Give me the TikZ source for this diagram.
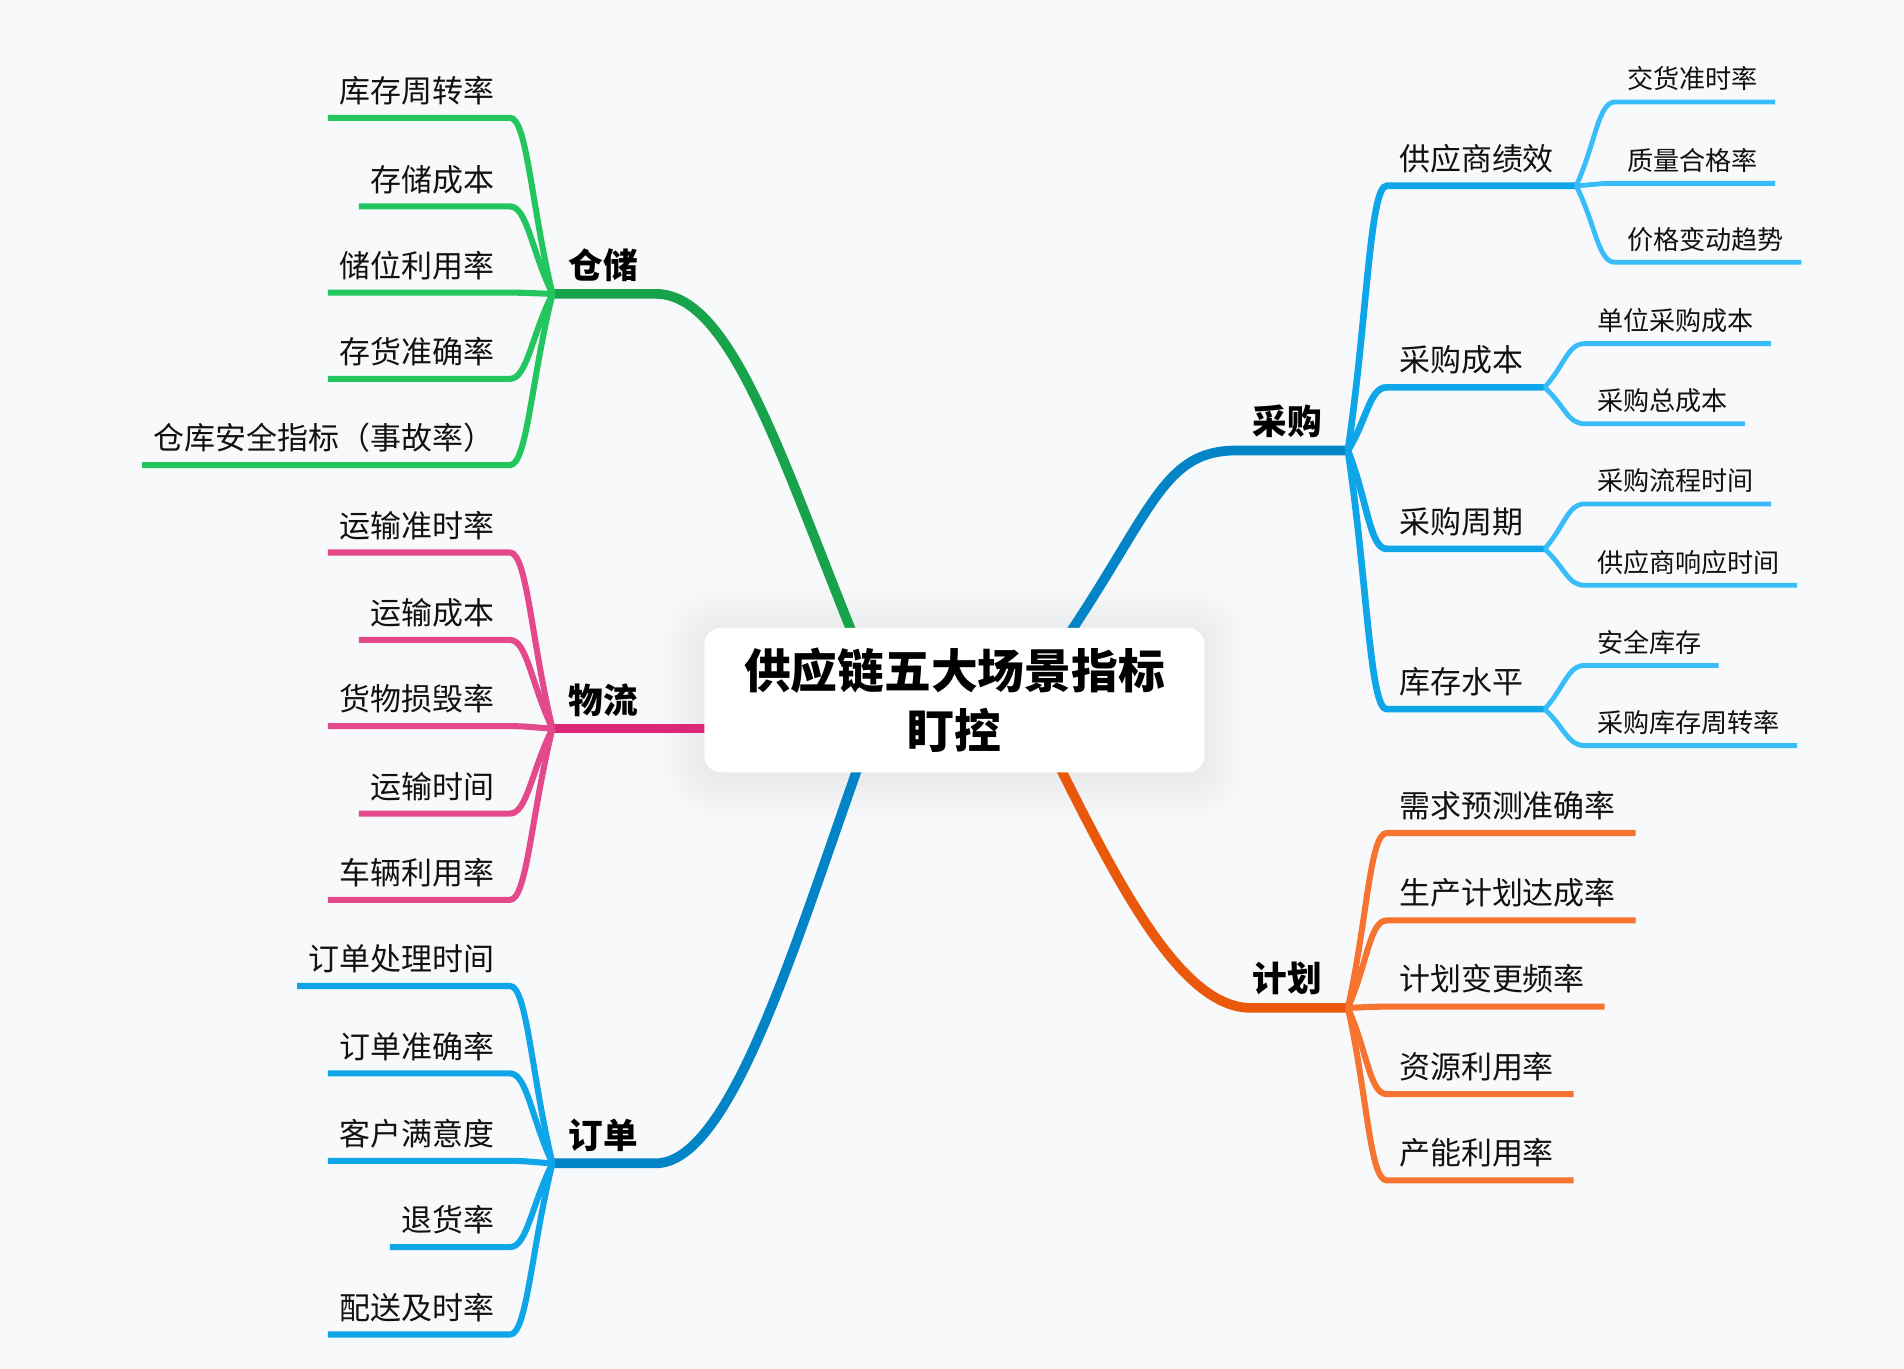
\documentclass[tikz,border=0pt]{standalone}
\usepackage{fontspec}
\setmainfont{Noto Sans CJK SC}
\usetikzlibrary{calc}
\pgfdeclarelayer{back}
\pgfdeclarelayer{lines}
\pgfsetlayers{back,lines,main}
\definecolor{bgc}{HTML}{F8F9FB}
\definecolor{gmain}{HTML}{16A34A}
\definecolor{gsub}{HTML}{22C55E}
\definecolor{pmain}{HTML}{DB2777}
\definecolor{psub}{HTML}{E4498C}
\definecolor{bmain}{HTML}{0284C7}
\definecolor{bsub}{HTML}{0EA5E9}
\definecolor{bleaf}{HTML}{38BDF8}
\definecolor{omain}{HTML}{EA580C}
\definecolor{osub}{HTML}{F6742F}
\definecolor{txt}{HTML}{111111}
\tikzset{
  mainline/.style={line width=8pt},
  lvtwo/.style={line width=5pt},
  lvthree/.style={line width=4pt},
  lleaf/.style={font=\fontsize{25.5}{30}\selectfont, text=txt, anchor=base east, inner sep=0pt, xshift=-13pt, yshift=12.5pt},
  rleaf/.style={font=\fontsize{25.5}{30}\selectfont, text=txt, anchor=base west, inner sep=0pt, xshift=10pt, yshift=13pt},
  rsmall/.style={font=\fontsize{21.5}{26}\selectfont, text=txt, anchor=base west, inner sep=0pt, xshift=10pt, yshift=10.8pt},
  blabel/.style={font=\fontsize{28.5}{32}\selectfont\bfseries, text=black, inner sep=0pt},
  ctrbox/.style={fill=white, rounded corners=14pt, minimum width=412pt, minimum height=119pt, align=center, inner sep=0pt,
    font=\fontsize{38.5}{49}\selectfont\bfseries, text=black}
}
% left leaf: #1 junction, #2 name, #3 x, #4 y, #5 text, #6 line style
\newcommand{\mmL}[6]{%
  \coordinate (#2c) at (#3,#4);
  \node[lleaf] (#2) at (#2c) {#5};
  \begin{pgfonlayer}{lines}
    \draw[#6] (#1) .. controls ($(#1)!0.5!(#2c)$) and +(14,0) .. (#2c) -- ($(#2c -| #2.west)+(-9,0)$);
  \end{pgfonlayer}%
}
% right leaf: #1 junction, #2 name, #3 x, #4 y, #5 text, #6 line style, #7 node style, #8 pad
\newcommand{\mmR}[8]{%
  \coordinate (#2c) at (#3,#4);
  \node[#7] (#2) at (#2c) {#5};
  \begin{pgfonlayer}{lines}
    \draw[#6] (#1) .. controls ($(#1)!0.5!(#2c)$) and +(-14,0) .. (#2c) -- ($(#2c -| #2.east)+(#8,0)$);
  \end{pgfonlayer}%
}
\begin{document}
\begin{tikzpicture}[x=1pt,y=-1pt,line cap=round,line join=round]
\useasboundingbox (0,0) rectangle (1568,1127);
\begin{pgfonlayer}{back}
  \fill[bgc] (0,0) rectangle (1568,1127);
\end{pgfonlayer}

% central node
\node[ctrbox] (ctr) at (786,576.5) {供应链五大场景指标\\盯控};

\begin{pgfonlayer}{back}
  \foreach \i in {1,...,14}{
    \fill[black,opacity=0.005,rounded corners={14pt+\i*1.8pt}]
      ($(ctr.south west)+(-\i*2.5,\i*2.5+3)$) rectangle ($(ctr.north east)+(\i*2.5,-\i*2.5+3)$);
  }
\end{pgfonlayer}

% junctions
\coordinate (gJ) at (455,242);  \coordinate (gE) at (540,242);
\coordinate (pJ) at (455,600);
\coordinate (oJ) at (455,958);  \coordinate (oE) at (540,958);
\coordinate (cJ) at (1110,371); \coordinate (cE) at (1018,371);
\coordinate (jJ) at (1110,830); \coordinate (jE) at (1030,830);

% branch labels
\node[blabel] (lg) at (497,218) {仓储};
\node[blabel] (lp) at (497,577) {物流};
\node[blabel] (lo) at (497,935) {订单};
\node[blabel] (lc) at (1060,347) {采购};
\node[blabel] (lj) at (1060,806) {计划};

\begin{pgfonlayer}{lines}
  \draw[mainline,gmain] (gJ) -- (gE) .. controls +(60,0) and +(-60,-150) .. ($(ctr.north)+(-86,0)$) -- ($(ctr.north)+(-74,30)$);
  \draw[mainline,pmain] (pJ) -- ($(ctr.west)+(20,23.5)$);
  \draw[mainline,bmain] (oJ) -- (oE) .. controls +(60,0) and +(-53,150) .. ($(ctr.south)+(-81,0)$) -- ($(ctr.south)+(-70,-30)$);
  \draw[mainline,bmain] (cJ) -- (cE) .. controls +(-58,0) and +(66,-100) .. ($(ctr.north)+(98,0)$) -- ($(ctr.north)+(78,30)$);
  \draw[mainline,omain] (jJ) -- (jE) .. controls +(-55,0) and +(50,100) .. ($(ctr.south)+(89,0)$) -- ($(ctr.south)+(74,-30)$);
\end{pgfonlayer}

% 仓储
\mmL{gJ}{g1}{420}{97}{库存周转率}{lvtwo,gsub}
\mmL{gJ}{g2}{420}{170}{存储成本}{lvtwo,gsub}
\mmL{gJ}{g3}{420}{241}{储位利用率}{lvtwo,gsub}
\mmL{gJ}{g4}{420}{312}{存货准确率}{lvtwo,gsub}
\mmL{gJ}{g5}{420}{383}{仓库安全指标（事故率）}{lvtwo,gsub}
% 物流
\mmL{pJ}{p1}{420}{455}{运输准时率}{lvtwo,psub}
\mmL{pJ}{p2}{420}{527}{运输成本}{lvtwo,psub}
\mmL{pJ}{p3}{420}{598}{货物损毁率}{lvtwo,psub}
\mmL{pJ}{p4}{420}{670}{运输时间}{lvtwo,psub}
\mmL{pJ}{p5}{420}{741}{车辆利用率}{lvtwo,psub}
% 订单
\mmL{oJ}{o1}{420}{812}{订单处理时间}{lvtwo,bsub}
\mmL{oJ}{o2}{420}{884}{订单准确率}{lvtwo,bsub}
\mmL{oJ}{o3}{420}{956}{客户满意度}{lvtwo,bsub}
\mmL{oJ}{o4}{420}{1027}{退货率}{lvtwo,bsub}
\mmL{oJ}{o5}{420}{1099}{配送及时率}{lvtwo,bsub}

% 采购 level 2
\coordinate (c1J) at (1298,153);
\coordinate (c2J) at (1272,319);
\coordinate (c3J) at (1272,452);
\coordinate (c4J) at (1272,584);
\foreach \n/\y/\t in {c1/153/供应商绩效, c2/319/采购成本, c3/452/采购周期, c4/584/库存水平}{
  \coordinate (\n c) at (1142,\y);
  \node[rleaf] (\n) at (\n c) {\t};
  \begin{pgfonlayer}{lines}
    \draw[lvtwo,line width=5.5pt,bsub] (cJ) .. controls ($(cJ)!0.5!(\n c)$) and +(-14,0) .. (\n c) -- (\n J);
  \end{pgfonlayer}
}
% 采购 level 3
\mmR{c1J}{d1}{1330}{84}{交货准时率}{lvthree,bleaf}{rsmall}{14}
\mmR{c1J}{d2}{1330}{151}{质量合格率}{lvthree,bleaf}{rsmall}{14}
\mmR{c1J}{d3}{1330}{216}{价格变动趋势}{lvthree,bleaf}{rsmall}{14}
\mmR{c2J}{d4}{1305}{283}{单位采购成本}{lvthree,bleaf}{rsmall}{14}
\mmR{c2J}{d5}{1305}{349}{采购总成本}{lvthree,bleaf}{rsmall}{14}
\mmR{c3J}{d6}{1305}{415}{采购流程时间}{lvthree,bleaf}{rsmall}{14}
\mmR{c3J}{d7}{1305}{482}{供应商响应时间}{lvthree,bleaf}{rsmall}{14}
\mmR{c4J}{d8}{1305}{548}{安全库存}{lvthree,bleaf}{rsmall}{14}
\mmR{c4J}{d9}{1305}{614}{采购库存周转率}{lvthree,bleaf}{rsmall}{14}

% 计划
\mmR{jJ}{j1}{1142}{686}{需求预测准确率}{lvtwo,osub}{rleaf}{16}
\mmR{jJ}{j2}{1142}{758}{生产计划达成率}{lvtwo,osub}{rleaf}{16}
\mmR{jJ}{j3}{1142}{829}{计划变更频率}{lvtwo,osub}{rleaf}{16}
\mmR{jJ}{j4}{1142}{901}{资源利用率}{lvtwo,osub}{rleaf}{16}
\mmR{jJ}{j5}{1142}{972}{产能利用率}{lvtwo,osub}{rleaf}{16}
\end{tikzpicture}
\end{document}
